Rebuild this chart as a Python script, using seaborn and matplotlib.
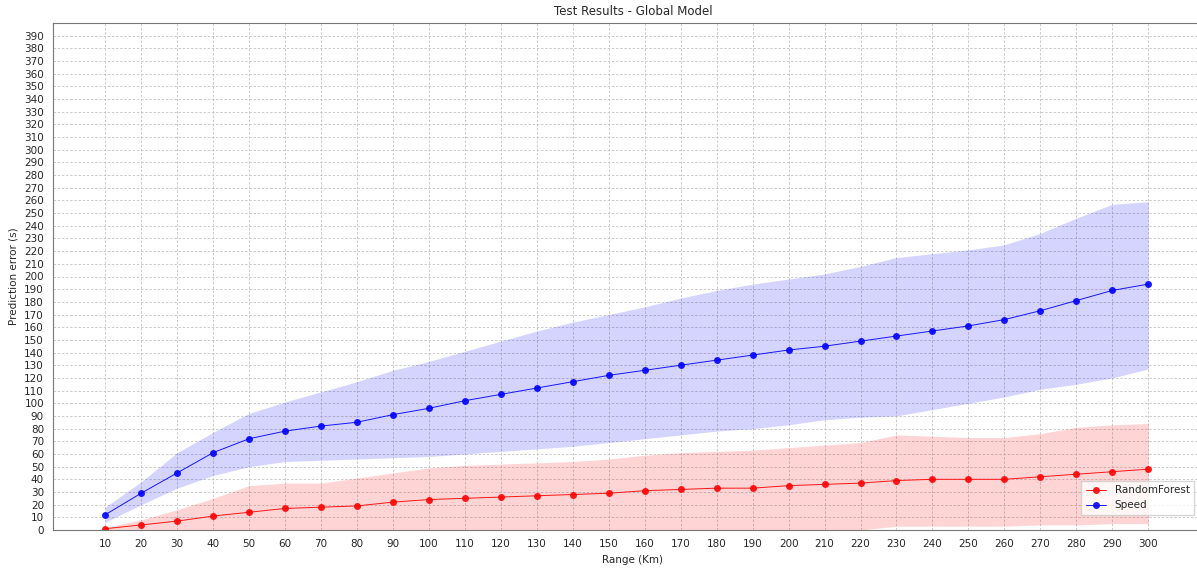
import numpy as np
import pandas as pd
import matplotlib
matplotlib.use("Agg")
import matplotlib.pyplot as plt
import seaborn as sns

# Valores
ranges = list(range(10, 310, 10))

speed_mean = [12, 29, 45, 61, 72, 78, 82, 85, 91, 96, 102, 107, 112, 117, 122,
              126, 130, 134, 138, 142, 145, 149, 153, 157, 161, 166, 173, 181, 189, 194]
speed_upper = [18, 38, 61, 77, 92, 101, 109, 117, 126, 133, 141, 149, 157, 164, 170,
               176, 183, 189, 194, 198, 202, 208, 215, 218, 221, 225, 234, 246, 257, 259]
speed_lower = [6, 20, 33, 43, 50, 54, 55, 56, 57, 58, 60, 62, 64, 66, 69,
               72, 75, 78, 80, 83, 87, 89, 90, 95, 100, 105, 111, 115, 120, 127]

rf_mean = [1, 4, 7, 11, 14, 17, 18, 19, 22, 24, 25, 26, 27, 28, 29,
           31, 32, 33, 33, 35, 36, 37, 39, 40, 40, 40, 42, 44, 46, 48]
rf_upper = [2, 8, 16, 25, 35, 37, 37, 41, 45, 49, 51, 52, 53, 54, 56,
            59, 61, 62, 63, 65, 67, 69, 75, 74, 73, 73, 76, 81, 83, 84]
rf_lower = [0, 0, 0, 0, 0, 0, 0, 0, 0, 0, 0, 0, 0, 0, 0,
            0, 0, 0, 0, 0, 0, 0, 3, 3, 3, 3, 4, 4, 5, 5]

df = pd.DataFrame({
    "range": ranges * 2,
    "error": rf_mean + speed_mean,
    "model": ["RandomForest"] * len(ranges) + ["Speed"] * len(ranges),
})

sns.set_style("white")
plt.rcParams['font.family'] = ['DejaVu Sans']

fig = plt.figure(figsize=(11.97, 5.70), dpi=100)
ax = fig.add_axes([53 / 1197, 40 / 570, 1160 / 1197, 507 / 570])

ax.fill_between(ranges, rf_lower, rf_upper, color='red', alpha=0.17, linewidth=0)
ax.fill_between(ranges, speed_lower, speed_upper, color='blue', alpha=0.17, linewidth=0)

sns.lineplot(data=df, x="range", y="error", hue="model",
             palette={"RandomForest": "red", "Speed": "blue"},
             marker='o', markersize=5, markeredgewidth=0, linewidth=0.7,
             alpha=0.9, ax=ax)

ax.set_xticks(ranges)
ax.set_yticks(np.arange(0, 400, 10))
ax.set_xlim(-4.5, 318)
ax.set_ylim(0, 400)
ax.tick_params(labelsize=7.5, length=3, color='#555555')
ax.grid(True, linestyle=(0, (3, 2)), color='#c4c4c4', linewidth=0.6)
for s in ax.spines.values():
    s.set_color('#777777')
ax.spines['right'].set_visible(False)

ax.set_title('Test Results - Global Model', fontsize=8.5)
ax.set_xlabel('Range (Km)', fontsize=7.5)
ax.set_ylabel('Prediction error (s)', fontsize=7.5)
ax.legend(loc='lower right', fontsize=7.5, title=None, fancybox=False,
          bbox_to_anchor=(0.988, 0.02))

fig.savefig('out.png', dpi=100)
